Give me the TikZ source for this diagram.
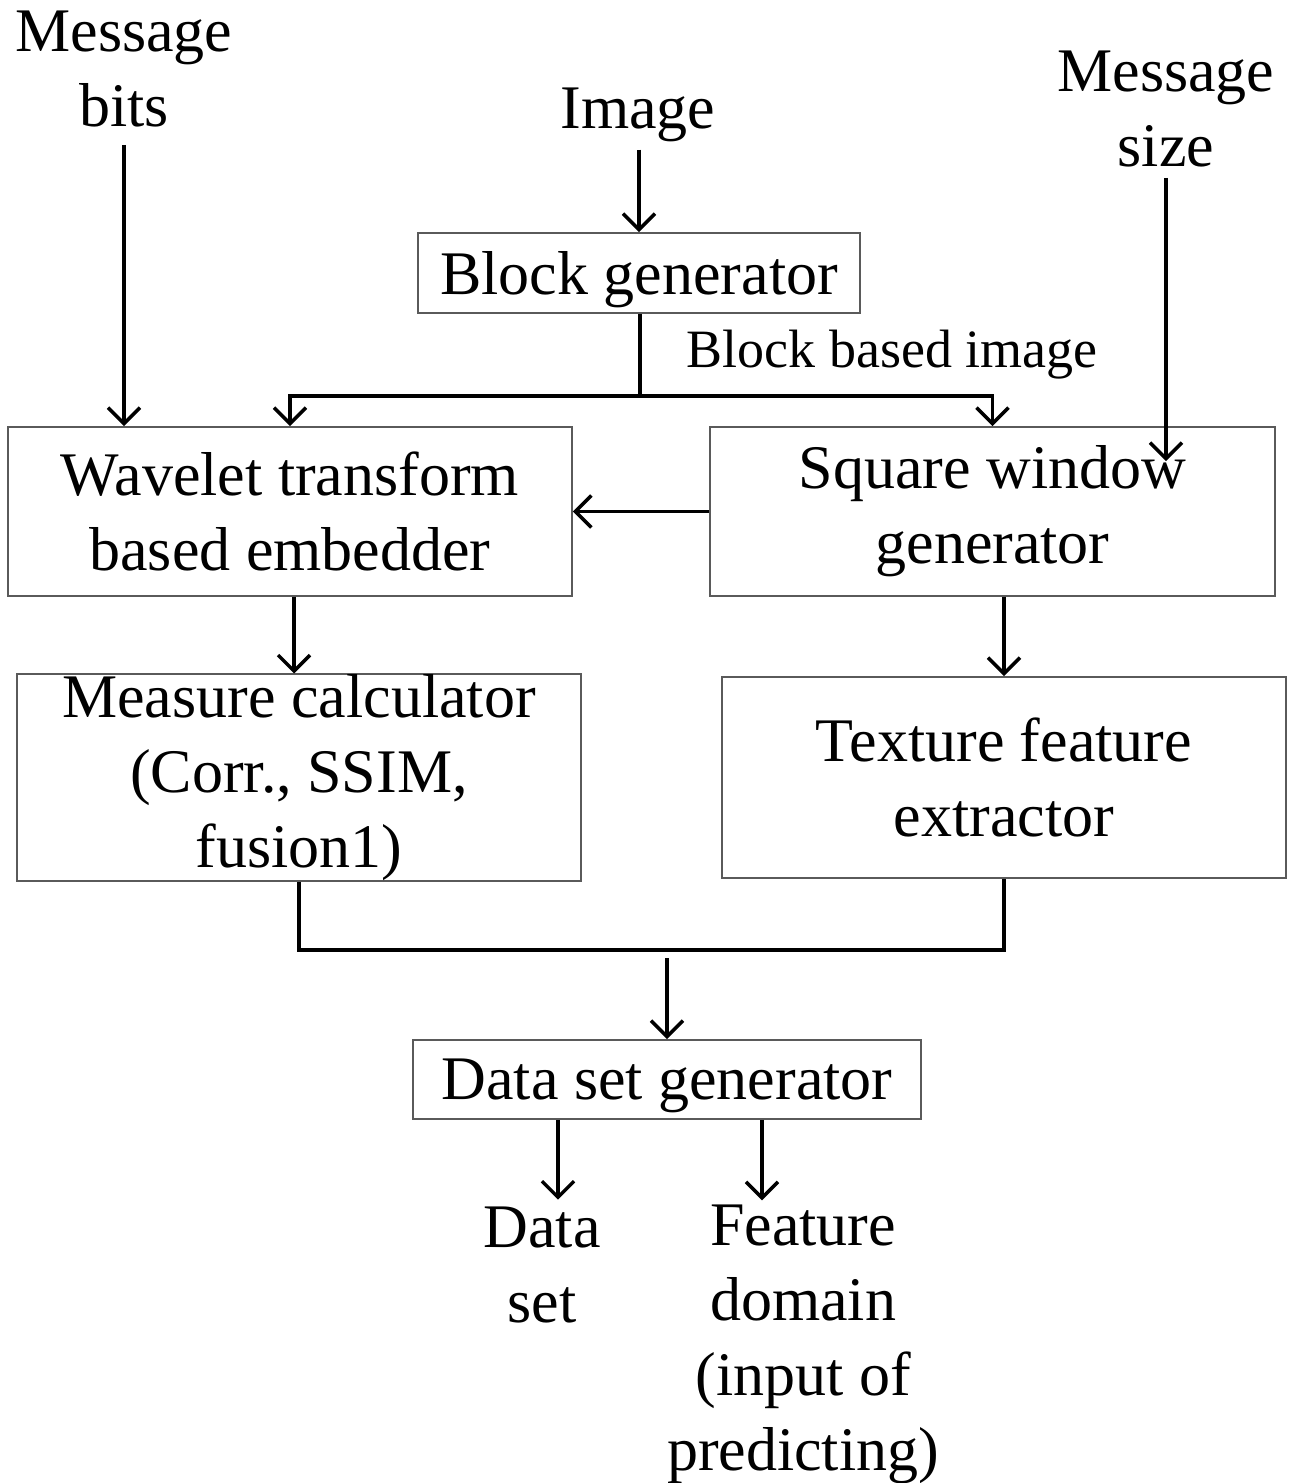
\documentclass[tikz,border=0pt]{standalone}
\usepackage{fontspec}
\setmainfont{Liberation Serif}
\usetikzlibrary{arrows.meta}
\definecolor{boxgray}{RGB}{90,90,90}
\newcommand\bigtxt{\fontsize{62}{75}\selectfont}
\newcommand\smalltxt{\fontsize{54}{65}\selectfont}
\begin{document}
\begin{tikzpicture}[x=1pt,y=-1pt,
  box/.style={draw=boxgray, line width=1.8pt, inner sep=0pt, align=center, font=\bigtxt},
  lbl/.style={inner sep=0pt, align=center, font=\bigtxt},
  conn/.style={line width=3.5pt, -{Straight Barb[length=16pt,width=32pt]}},
  wire/.style={line width=3.5pt}]
\useasboundingbox[fill=white] (0,0) rectangle (1298,1483);

% boxes
\node[box, text depth=0pt, minimum width=442pt, minimum height=80pt] (blk) at (639,273) {Block generator};
\node[box, minimum width=564pt, minimum height=169pt] (wave) at (290,511.5) {Wavelet transform\\based embedder};
\node[box, minimum width=565pt, minimum height=169pt] (sq) at (992.5,511.5) {Square window\\generator};
\node[box, minimum width=564pt, minimum height=201pt] (meas) at (299,777.5) {Measure calculator\\(Corr., SSIM,\\fusion1)};
\node[box, minimum width=564pt, minimum height=201pt] (tex) at (1004,777.5) {Texture feature\\extractor};
\node[box, text depth=0pt, minimum width=508pt, minimum height=79pt] (ds) at (667,1079.5) {Data set generator};

% labels
\node[lbl] (mbits) at (124,69.5) {Message\\bits};
\node[lbl] (msize) at (1166,109.5) {Message\\size};
\node[lbl, anchor=base] (img) at (638,128) {Image};
\node[lbl, anchor=base, font=\smalltxt] (bbi) at (892,367) {Block based image};
\node[lbl] (dset) at (542,1265) {Data\\set};
\node[lbl] (feat) at (803,1344) {Feature\\domain\\(input of\\predicting)};

% connectors
\coordinate (split) at (640,396);
\coordinate (mrg) at (667,950);

\draw[conn] ([yshift=-8pt]img.south -| blk.north) -- (blk.north);
\draw[conn] ([yshift=-17pt]mbits.south) -- (mbits.south |- wave.north);
\draw[conn] ([yshift=-10pt]msize.south) -- ([yshift=-35pt]msize.south |- sq.north);
\draw[wire] (blk.south -| split) -- (split);
\draw[conn] (split) -| (wave.north);
\draw[conn] (split) -| (sq.north);
\draw[conn] (sq.west) -- (wave.east);
\draw[conn] ([xshift=4pt]wave.south) -- ([xshift=-5pt]meas.north);
\draw[conn] (tex.north |- sq.south) -- (tex.north);
\draw[wire] (meas.south) |- (mrg) -| (tex.south);
\draw[conn] ([yshift=-8pt]mrg) -- (ds.north);
\draw[conn] ([xshift=16pt]dset.north |- ds.south) -- ([xshift=16pt,yshift=7pt]dset.north);
\draw[conn] ([xshift=-41pt]feat.north |- ds.south) -- ([xshift=-41pt,yshift=4pt]feat.north);
\end{tikzpicture}
\end{document}
